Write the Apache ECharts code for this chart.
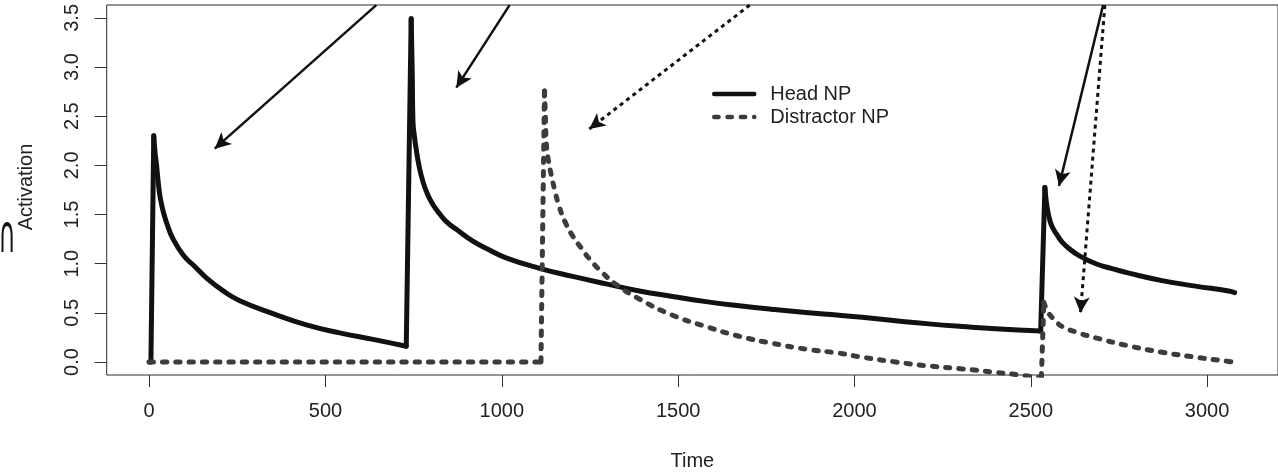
<!DOCTYPE html>
<html>
<head>
<meta charset="utf-8">
<script src="https://cdn.jsdelivr.net/npm/echarts@6/dist/echarts.min.js"></script>
<style>
html,body{margin:0;padding:0;background:#fff;}
#chart{width:1278px;height:476px;}
</style>
</head>
<body>
<div id="chart"></div>
<script>
// activation curves
var headTime  = [0, 5, 13, 17, 21, 26, 31, 40, 50, 68, 97, 125, 163, 210, 257, 351, 446, 540, 635, 729,
                 743, 746, 748, 752, 757, 765, 776, 790, 805, 823, 845, 871, 918, 965, 1012, 1107, 1201, 1296,
                 1390, 1484, 1579, 1673, 1768, 1862, 1956, 2022, 2117, 2211, 2306, 2400, 2528,
                 2540, 2543, 2546, 2552, 2560, 2575, 2589, 2610, 2636, 2683, 2730, 2778, 2872, 2967, 3061, 3078];
var headValue = [0, 0, 2.30, 2.12, 2.00, 1.82, 1.68, 1.53, 1.41, 1.25, 1.085, 0.986, 0.854, 0.723, 0.624, 0.493, 0.378, 0.296, 0.230, 0.16,
                 3.49, 2.95, 2.45, 2.30, 2.17, 2.00, 1.84, 1.70, 1.60, 1.51, 1.42, 1.35, 1.23, 1.14, 1.06, 0.953, 0.871, 0.795,
                 0.723, 0.667, 0.614, 0.572, 0.535, 0.503, 0.476, 0.455, 0.42, 0.388, 0.361, 0.338, 0.316,
                 1.775, 1.66, 1.58, 1.47, 1.38, 1.29, 1.22, 1.15, 1.085, 1.002, 0.95, 0.904, 0.828, 0.772, 0.723, 0.706];

var distTime  = [0, 1111, 1121, 1124, 1126, 1132, 1140, 1150, 1163, 1180, 1201, 1225, 1248, 1285, 1324, 1390, 1484,
                 1579, 1673, 1768, 1862, 1956, 2022, 2117, 2211, 2306, 2400, 2475, 2530,
                 2537, 2545, 2551, 2570, 2589, 2636, 2683, 2778, 2872, 2967, 3061, 3078];
var distValue = [0, 0, 2.76, 2.45, 2.235, 2.05, 1.906, 1.75, 1.578, 1.42, 1.282, 1.16, 1.051, 0.91, 0.789, 0.641, 0.476,
                 0.361, 0.262, 0.19, 0.131, 0.09, 0.049, 0.0, -0.04, -0.07, -0.105, -0.135, -0.16,
                 0.608, 0.53, 0.493, 0.42, 0.361, 0.296, 0.247, 0.164, 0.099, 0.049, 0.006, -0.005];

var xTicks = [0, 500, 1000, 1500, 2000, 2500, 3000];
var yTicks = [0, 0.5, 1, 1.5, 2, 2.5, 3, 3.5];

// annotation arrows: [fromTime, fromAct, toTime, toAct, dashed]
var arrowLines = [
  [644, 3.63, 186, 2.17, false],
  [1022, 3.63, 871, 2.79, false],
  [1703, 3.63, 1248, 2.37, true],
  [2705, 3.63, 2580, 1.79, false],
  [2710, 3.63, 2641, 0.50, true]
];

var FONT = '"Liberation Sans", Arial, Helvetica, sans-serif';
var HEAD_STYLE = { color: '#111', width: 5, join: 'round', cap: 'round' };
var DIST_STYLE = { color: '#3c3c3c', width: 5, type: [4.3, 9], cap: 'round', join: 'round' };

// split a curve into decay runs (smoothed) and the jumps between them (straight)
function segments(t, v) {
  var out = [], run = [[t[0], v[0]]];
  for (var i = 1; i < t.length; i++) {
    if (v[i] > v[i - 1]) {
      out.push(run);
      out.push([[t[i - 1], v[i - 1]], [t[i], v[i]]]);
      run = [[t[i], v[i]]];
    } else {
      run.push([t[i], v[i]]);
    }
  }
  out.push(run);
  return out;
}

function makeSeries(name, t, v, style, color) {
  return segments(t, v).map(function (d) {
    return {
      name: name, type: 'line', symbol: 'none', clip: true,
      smooth: d.length > 2 ? 0.5 : false,
      data: d,
      lineStyle: style,
      itemStyle: { color: color },
      emphasis: { disabled: true }
    };
  });
}

var arrowData = arrowLines.map(function (a) {
  return [
    { coord: [a[0], a[1]], symbol: 'none',
      lineStyle: { color: '#111', width: a[4] ? 3 : 2.5, type: a[4] ? [4, 4] : 'solid' } },
    { coord: [a[2], a[3]], symbol: 'arrow' }
  ];
});

var headSeries = makeSeries('Head NP', headTime, headValue, HEAD_STYLE, '#111');
var distSeries = makeSeries('Distractor NP', distTime, distValue, DIST_STYLE, '#3c3c3c');

headSeries[0].markLine = {
  silent: true, animation: false,
  symbol: ['none', 'arrow'], symbolSize: [12, 16],
  label: { show: false },
  emphasis: { disabled: true },
  data: arrowData
};

var chart = echarts.init(document.getElementById('chart'), null, { renderer: 'canvas' });

chart.setOption({
  animation: false,
  backgroundColor: '#fff',
  textStyle: { fontFamily: FONT },
  grid: { left: 106.7, top: 5, right: -1.5, bottom: 89.3, show: true, borderColor: '#2a2a2a', borderWidth: 1 },
  legend: {
    left: 712, top: 84, orient: 'vertical', padding: 0,
    itemWidth: 40, itemHeight: 14, itemGap: 3,
    itemStyle: { opacity: 0 },
    lineStyle: { width: 4.5 },
    textStyle: { fontSize: 20, color: '#222', fontFamily: FONT, padding: [0, 0, 0, 11] },
    data: ['Head NP', 'Distractor NP']
  },
  xAxis: {
    type: 'value', min: -120.4, max: 3201,
    name: 'Time', nameLocation: 'middle', nameGap: 76,
    nameTextStyle: { fontSize: 20, color: '#222', fontFamily: FONT },
    axisLine: { show: false, onZero: false },
    splitLine: { show: false },
    axisTick: { show: true, length: 12, customValues: xTicks, lineStyle: { color: '#333', width: 1 } },
    axisLabel: {
      customValues: xTicks, fontSize: 20, color: '#222', margin: 26, fontFamily: FONT,
      formatter: function (v) { return String(v); }
    }
  },
  yAxis: {
    type: 'value', min: -0.132, max: 3.631,
    axisLine: { show: false, onZero: false },
    splitLine: { show: false },
    axisTick: { show: true, length: 12, customValues: yTicks, lineStyle: { color: '#333', width: 1 } },
    axisLabel: {
      customValues: yTicks, fontSize: 20, color: '#222', margin: 24, rotate: 90, fontFamily: FONT,
      formatter: function (v) { return v.toFixed(1); }
    }
  },
  graphic: [
    { type: 'text', x: 26, y: 187, rotation: Math.PI / 2,
      style: { text: 'Activation', font: '20px ' + FONT, fill: '#222', align: 'center', verticalAlign: 'middle' } },
    { type: 'text', x: 7, y: 238, scaleX: 0.45,
      style: { text: '∩', font: '52px "DejaVu Sans"', fill: '#111', align: 'center', verticalAlign: 'middle' } }
  ],
  series: headSeries.concat(distSeries)
});
</script>
</body>
</html>
